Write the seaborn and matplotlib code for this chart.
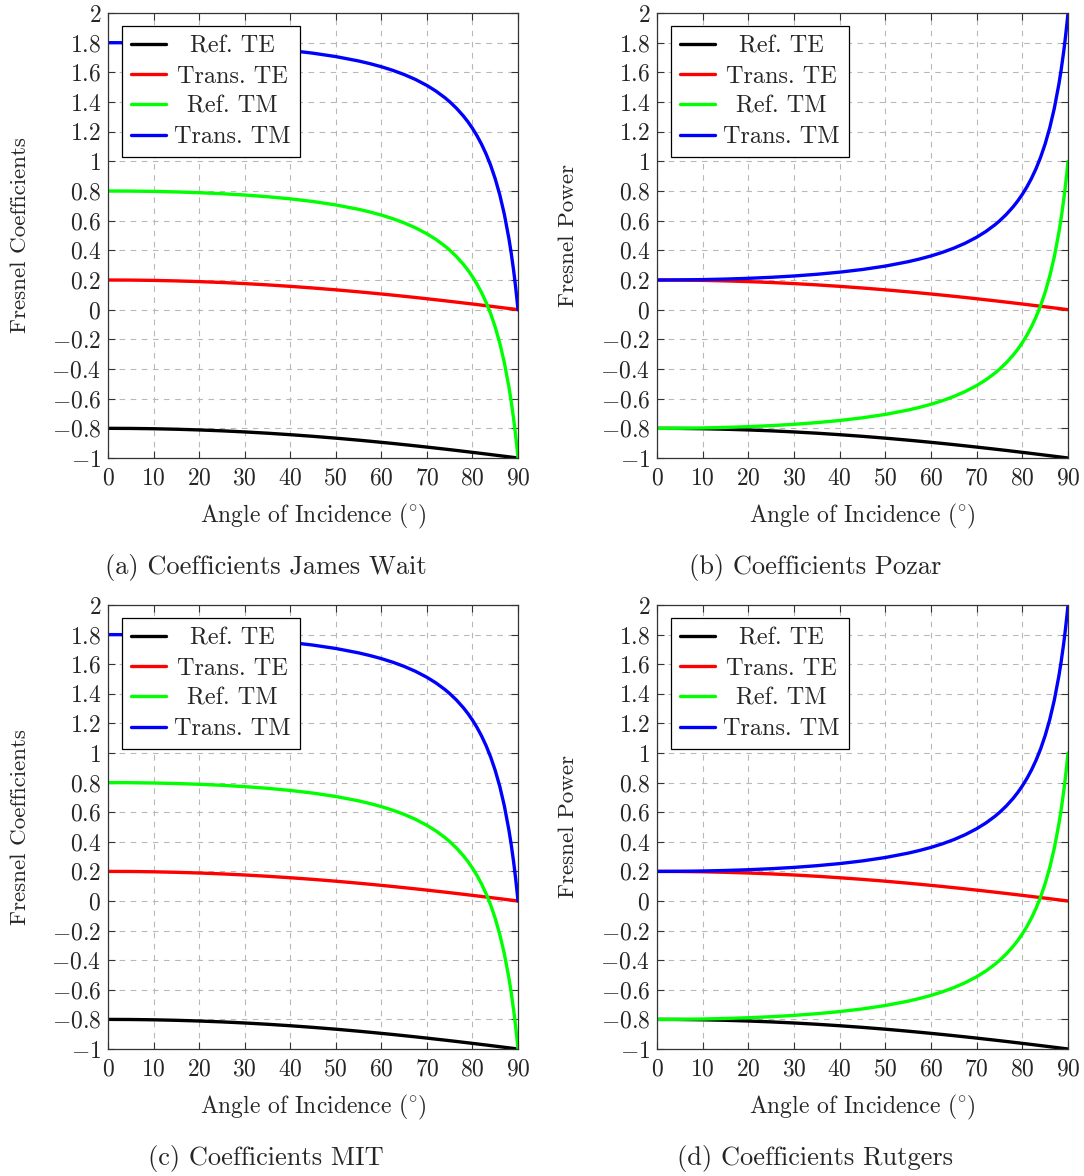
import matplotlib
matplotlib.use("Agg")
import matplotlib.pyplot as plt
import seaborn as sns

# Angle of incidence samples (degrees), denser near grazing incidence
angles = [0, 5, 10, 15, 20, 25, 30, 35, 40, 45, 50, 55, 57.5, 60, 62.5, 65, 67.5, 70,
          72, 74, 75, 76.5, 78, 79, 80, 81, 82, 83, 84, 85, 86, 87, 88, 88.5, 89,
          89.25, 89.5, 89.8, 89.9, 90]

ref_te = [-0.8000, -0.8007, -0.8027, -0.8061, -0.8108, -0.8168, -0.8242, -0.8328,
          -0.8428, -0.8539, -0.8662, -0.8797, -0.8869, -0.8943, -0.9019, -0.9099,
          -0.9180, -0.9264, -0.9333, -0.9402, -0.9438, -0.9491, -0.9546, -0.9582,
          -0.9619, -0.9656, -0.9694, -0.9731, -0.9769, -0.9807, -0.9845, -0.9884,
          -0.9922, -0.9942, -0.9961, -0.9971, -0.9981, -0.9992, -0.9996, -1.0]
trans_te = [0.2000, 0.1993, 0.1973, 0.1939, 0.1892, 0.1832, 0.1758, 0.1672, 0.1572,
            0.1461, 0.1338, 0.1203, 0.1131, 0.1057, 0.0981, 0.0901, 0.0820, 0.0736,
            0.0667, 0.0598, 0.0562, 0.0509, 0.0454, 0.0418, 0.0381, 0.0344, 0.0306,
            0.0269, 0.0231, 0.0193, 0.0155, 0.0116, 0.0078, 0.0058, 0.0039, 0.0029,
            0.0019, 0.0008, 0.0004, 0.0]
ref_tm_coef = [0.8000, 0.7993, 0.7973, 0.7938, 0.7887, 0.7818, 0.7729, 0.7615, 0.7472,
               0.7291, 0.7062, 0.6766, 0.6585, 0.6378, 0.6136, 0.5853, 0.5518, 0.5116,
               0.4733, 0.4278, 0.4017, 0.3576, 0.3061, 0.2668, 0.2225, 0.1723, 0.1151,
               0.0492, -0.0275, -0.1178, -0.2257, -0.3569, -0.5197, -0.6167, -0.7270,
               -0.7880, -0.8535, -0.9387, -0.9689, -1.0]
trans_tm_coef = [1.8000, 1.7993, 1.7973, 1.7938, 1.7887, 1.7818, 1.7729, 1.7615, 1.7472,
                 1.7291, 1.7062, 1.6766, 1.6585, 1.6378, 1.6136, 1.5853, 1.5518, 1.5116,
                 1.4733, 1.4278, 1.4017, 1.3576, 1.3061, 1.2668, 1.2225, 1.1723, 1.1151,
                 1.0492, 0.9725, 0.8822, 0.7743, 0.6431, 0.4803, 0.3833, 0.2730,
                 0.2120, 0.1465, 0.0613, 0.0311, 0.0]
ref_tm_power = [-0.8000, -0.7993, -0.7973, -0.7938, -0.7887, -0.7818, -0.7729, -0.7615,
                -0.7472, -0.7291, -0.7062, -0.6766, -0.6585, -0.6378, -0.6136, -0.5853,
                -0.5518, -0.5116, -0.4733, -0.4278, -0.4017, -0.3576, -0.3061, -0.2668,
                -0.2225, -0.1723, -0.1151, -0.0492, 0.0275, 0.1178, 0.2257, 0.3569,
                0.5197, 0.6167, 0.7270, 0.7880, 0.8535, 0.9387, 0.9689, 1.0]
trans_tm_power = [0.2000, 0.2007, 0.2027, 0.2062, 0.2113, 0.2182, 0.2271, 0.2385, 0.2528,
                  0.2709, 0.2938, 0.3234, 0.3415, 0.3622, 0.3864, 0.4147, 0.4482, 0.4884,
                  0.5267, 0.5722, 0.5983, 0.6424, 0.6939, 0.7332, 0.7775, 0.8277, 0.8849,
                  0.9508, 1.0275, 1.1178, 1.2257, 1.3569, 1.5197, 1.6167, 1.7270,
                  1.7880, 1.8535, 1.9387, 1.9689, 2.0]

series_names = ["Ref. TE", "Trans. TE", "Ref. TM", "Trans. TM"]
series_colors = ["#000000", "#ff0000", "#00ff00", "#0000ff"]

x_ticks = [0, 10, 20, 30, 40, 50, 60, 70, 80, 90]
y_ticks = [-1, -0.8, -0.6, -0.4, -0.2, 0, 0.2, 0.4, 0.6, 0.8, 1, 1.2, 1.4, 1.6, 1.8, 2]
x_tick_labels = ["0", "10", "20", "30", "40", "50", "60", "70", "80", "90"]
y_tick_labels = ["−1", "−0.8", "−0.6", "−0.4", "−0.2", "0", "0.2", "0.4", "0.6", "0.8",
                 "1", "1.2", "1.4", "1.6", "1.8", "2"]

captions = ["(a) Coefficients James Wait", "(b) Coefficients Pozar",
            "(c) Coefficients MIT", "(d) Coefficients Rutgers"]
y_labels = ["Fresnel Coefficients", "Fresnel Power",
            "Fresnel Coefficients", "Fresnel Power"]
x_label = r"Angle of Incidence ($\!^\circ\!$)"
panel_series = [
    [ref_te, trans_te, ref_tm_coef, trans_tm_coef],
    [ref_te, trans_te, ref_tm_power, trans_tm_power],
    [ref_te, trans_te, ref_tm_coef, trans_tm_coef],
    [ref_te, trans_te, ref_tm_power, trans_tm_power],
]

sns.set_theme(style="white")
plt.rcParams["font.family"] = ["cmr10", "DejaVu Serif"]
plt.rcParams["mathtext.fontset"] = "cm"
plt.rcParams["axes.unicode_minus"] = False

FS_CAP = 19
FS_XLABEL = 17
FS_YLABEL = 16.6
FS_LEG = 17.5
FS_TICK = 17
W, H = 1084, 1176
fig = plt.figure(figsize=(W / 100, H / 100), dpi=100)
fig.patch.set_facecolor("white")

# panel boxes in pixels: (left, top, right, bottom)
boxes = [(108, 13, 518, 458), (657, 13, 1068, 458),
         (108, 605, 518, 1049), (657, 605, 1068, 1049)]
ylabel_x = [30, 578, 30, 578]
caption_pos = [(266, 567), (815, 567), (266, 1159), (815, 1159)]

for i, (l, t, r, b) in enumerate(boxes):
    ax = fig.add_axes([l / W, 1 - b / H, (r - l) / W, (b - t) / H])
    ax.set_facecolor("white")
    for vals, name, col in zip(panel_series[i], series_names, series_colors):
        sns.lineplot(x=angles, y=vals, ax=ax, color=col, lw=2.4, label=name,
                     estimator=None, sort=False)
    ax.set_xlim(0, 90)
    ax.set_ylim(-1, 2)
    ax.set_xticks(x_ticks)
    ax.set_yticks(y_ticks)
    ax.set_xticklabels(["$%s$" % s for s in x_tick_labels], fontsize=FS_TICK)
    ax.set_yticklabels(["$%s$" % s.replace("−", "-") for s in y_tick_labels],
                       fontsize=FS_TICK)
    ax.tick_params(direction="in", length=5, width=0.8, color="#333333",
                   top=True, right=True, bottom=True, left=True)
    ax.tick_params(axis="x", pad=7)
    ax.tick_params(axis="y", pad=5)
    ax.set_axisbelow(True)
    ax.grid(True, linestyle=(0, (5, 5)), color="#b8b8b8", lw=0.8)
    for sp in ax.spines.values():
        sp.set_color("#333333")
        sp.set_linewidth(0.9)
    ax.set_xlabel(x_label, fontsize=FS_XLABEL, labelpad=9)
    ax.set_ylabel(y_labels[i], fontsize=FS_YLABEL)
    ax.yaxis.set_label_coords(-(l - ylabel_x[i]) / (r - l), 0.5)

    leg = ax.legend(loc="upper left", bbox_to_anchor=(14 / (r - l), 1 - 13 / (b - t)),
                    borderaxespad=0, fontsize=FS_LEG, frameon=True, fancybox=False,
                    framealpha=1, edgecolor="black", handlelength=1.45,
                    handletextpad=0.32, labelspacing=0.34, borderpad=0.37)
    leg.get_frame().set_linewidth(0.9)
    for ln in leg.get_lines():
        ln.set_linewidth(2.4)

    cx, cy = caption_pos[i]
    fig.text(cx / W, 1 - cy / H, captions[i], fontsize=FS_CAP, ha="center", va="center")

# centre the legend labels within their column
fig.canvas.draw()
renderer = fig.canvas.get_renderer()
for ax in fig.axes:
    leg = ax.get_legend()
    texts = leg.get_texts()
    widths = [t.get_window_extent(renderer).width for t in texts]
    wmax = max(widths)
    for t, w in zip(texts, widths):
        t.set_x((wmax - w) / 2)

fig.savefig("out.png", dpi=100, facecolor="white")
